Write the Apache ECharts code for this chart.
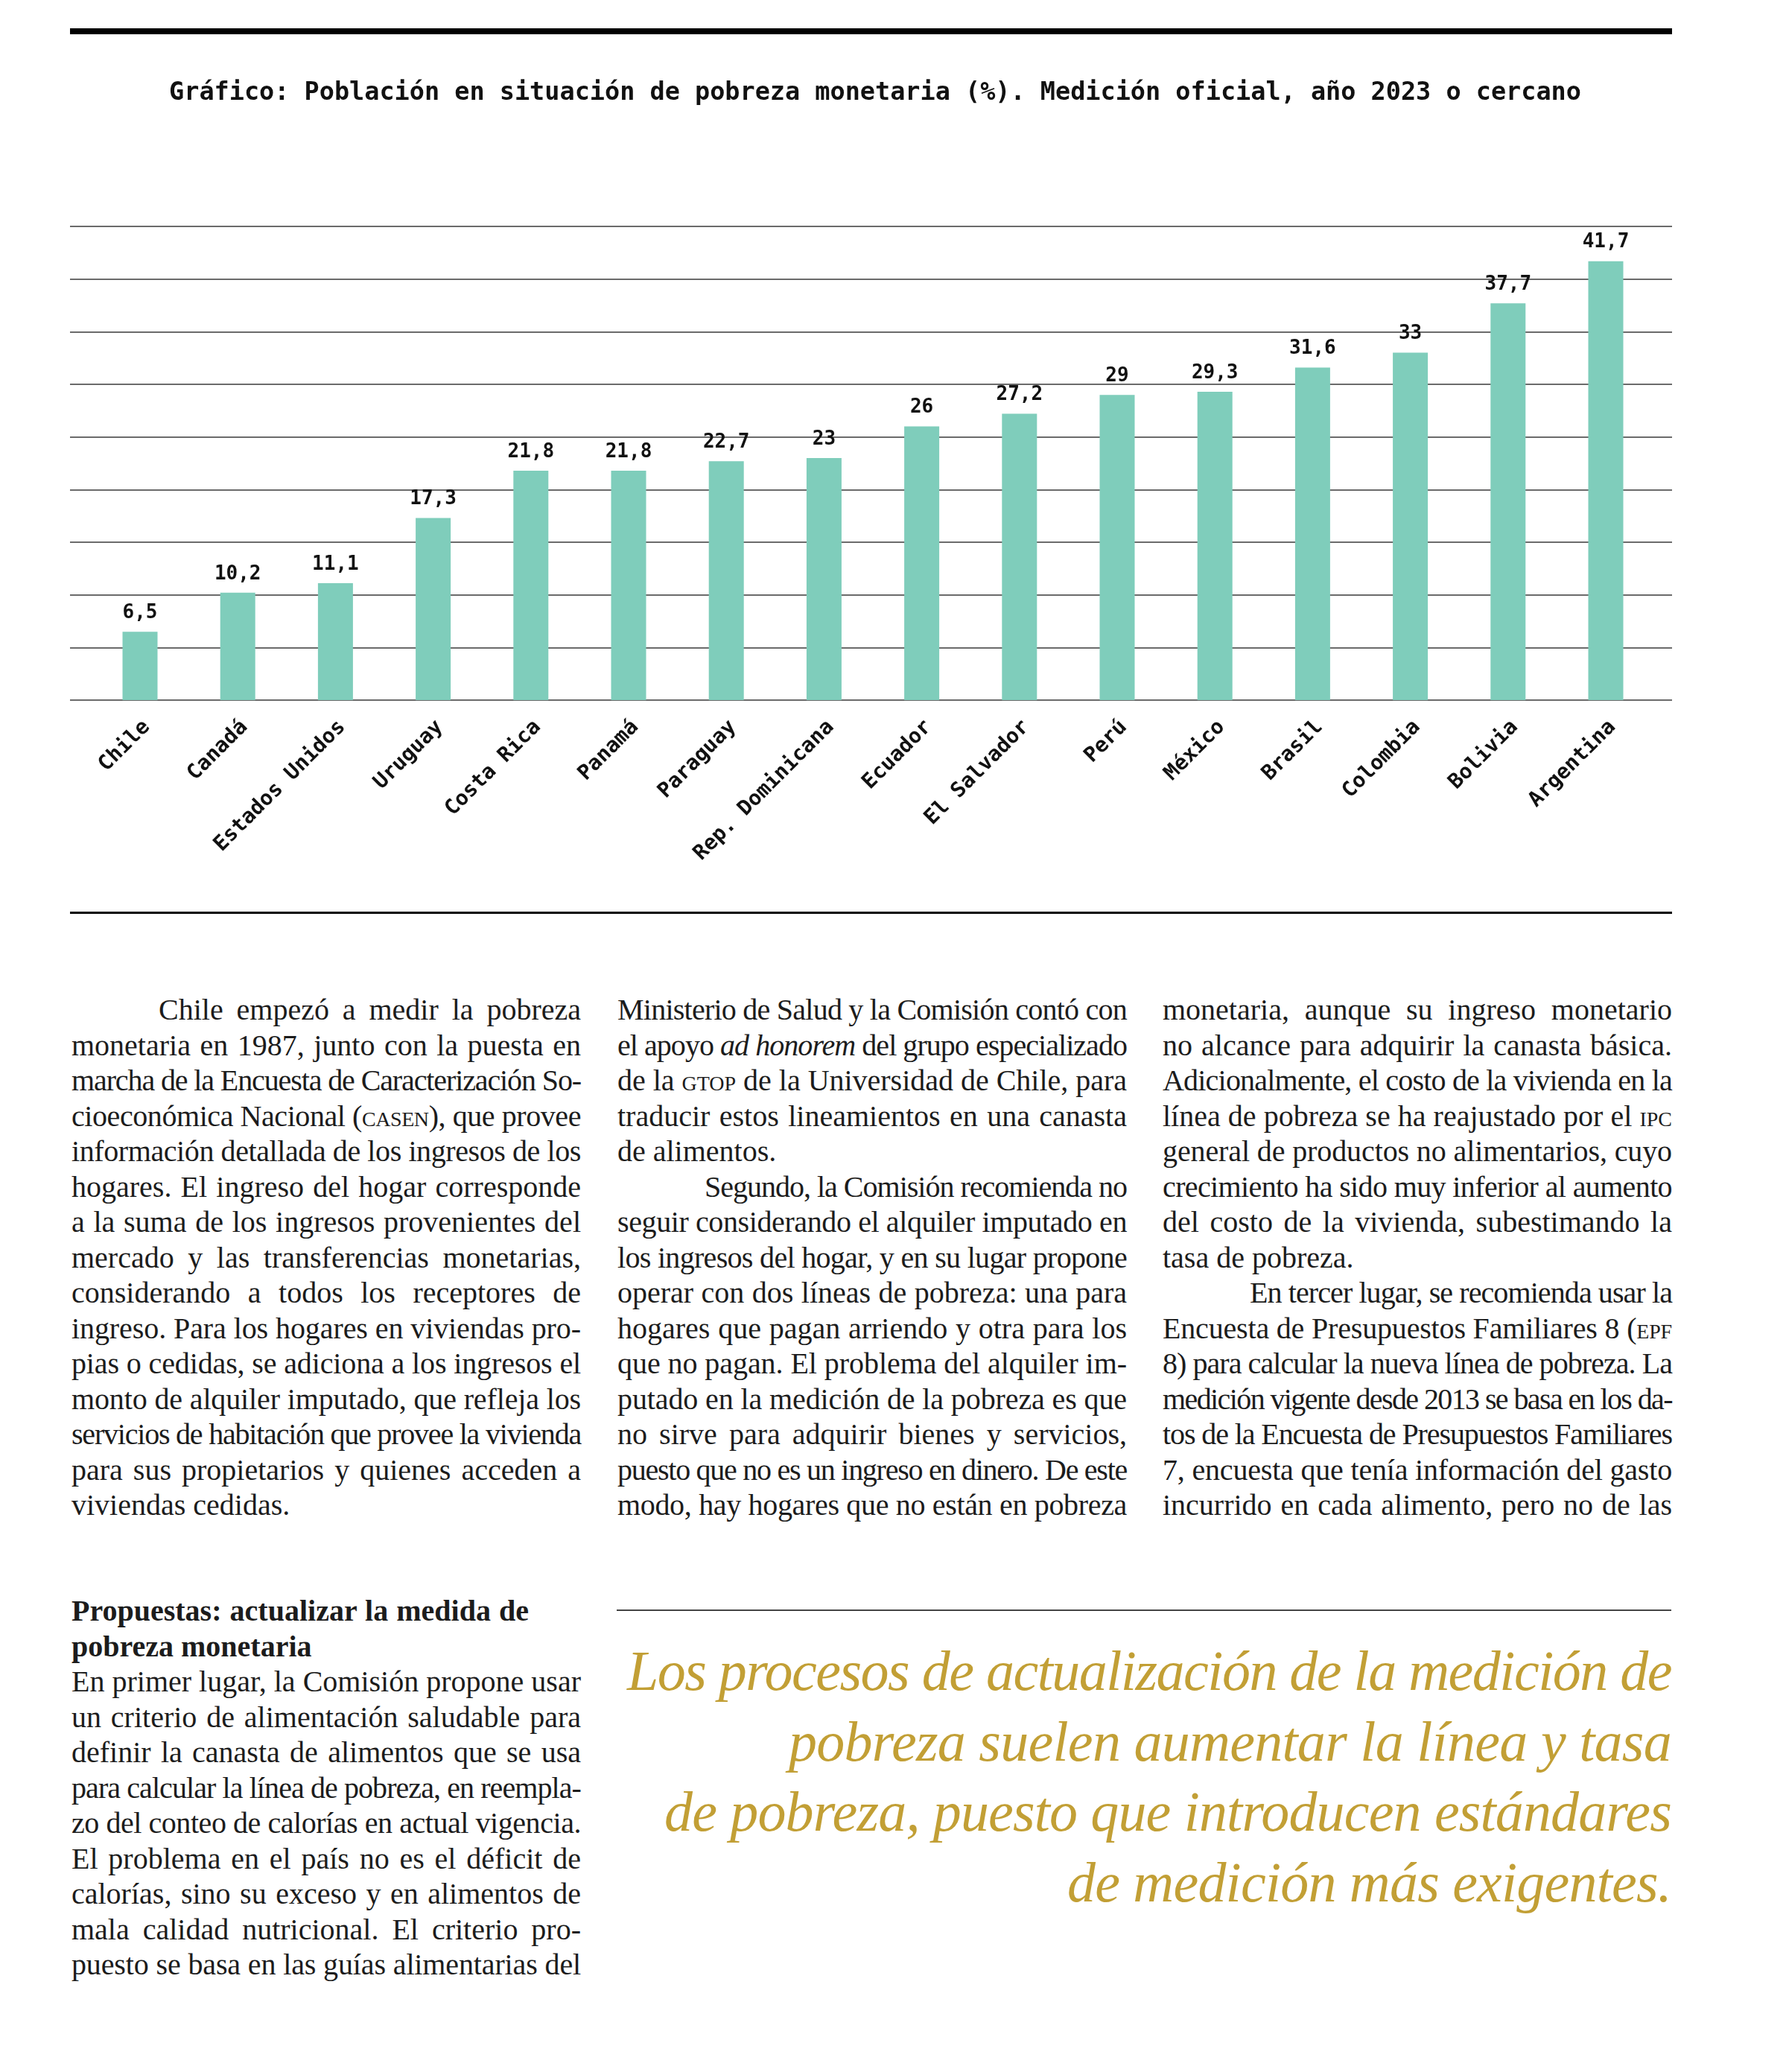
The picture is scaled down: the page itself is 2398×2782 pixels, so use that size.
<!DOCTYPE html>
<html>
<head>
<meta charset="utf-8">
<script src="https://cdn.jsdelivr.net/npm/echarts@6/dist/echarts.min.js"></script>
<style>
html,body{margin:0;padding:0;background:#fff;}
body{width:2398px;height:2782px;position:relative;overflow:hidden;}
#chart{position:absolute;left:0;top:0;width:2398px;height:1240px;z-index:1;}
.rule{position:absolute;background:#000;z-index:2;}
.col{position:absolute;width:684px;font-family:"Liberation Serif",serif;font-size:40px;line-height:47.5px;color:#1c1c1c;}
.ln{display:block;white-space:nowrap;}
.ln .t{display:inline-block;white-space:nowrap;}
.ind{padding-left:117px;}
.sc{font-variant:small-caps;}
.hd{font-weight:bold;}
#quote{position:absolute;left:828px;top:2196px;width:1416px;font-family:"Liberation Serif",serif;font-style:italic;font-size:76px;line-height:94.6px;color:#c29f35;text-align:right;}
#quote .ln{text-align:right;}
</style>
</head>
<body>
<div class="rule" style="left:94px;top:38px;width:2151px;height:8px;"></div>
<div id="chart"></div>
<div class="rule" style="left:94px;top:1224px;width:2151px;height:3px;"></div>
<div class="col" id="c1" style="left:96px;top:1332px;"></div>
<div class="col" id="c2" style="left:829px;top:1332px;"></div>
<div class="col" id="c3" style="left:1561px;top:1332px;"></div>
<div class="col" id="c4" style="left:96px;top:2139px;"></div>
<div class="rule" style="left:828px;top:2161px;width:1416px;height:2px;background:#444;"></div>
<div id="quote"></div>
<script>
// ---- chart data ----
const categories = ['Chile','Canadá','Estados Unidos','Uruguay','Costa Rica','Panamá','Paraguay','Rep. Dominicana','Ecuador','El Salvador','Perú','México','Brasil','Colombia','Bolivia','Argentina'];
const values = [6.5,10.2,11.1,17.3,21.8,21.8,22.7,23,26,27.2,29,29.3,31.6,33,37.7,41.7];
const yMin = 0, yMax = 45, yStep = 5;
const chartTitle = 'Gráfico: Población en situación de pobreza monetaria (%). Medición oficial, año 2023 o cercano';

// ---- article text (">" = indented first line, "|" = paragraph end, not justified) ----
const col1 = [
 '>Chile empezó a medir la pobreza',
 'monetaria en 1987, junto con la puesta en',
 'marcha de la Encuesta de Caracterización So-',
 'cioeconómica Nacional (<span class="sc">casen</span>), que provee',
 'información detallada de los ingresos de los',
 'hogares. El ingreso del hogar corresponde',
 'a la suma de los ingresos provenientes del',
 'mercado y las transferencias monetarias,',
 'considerando a todos los receptores de',
 'ingreso. Para los hogares en viviendas pro-',
 'pias o cedidas, se adiciona a los ingresos el',
 'monto de alquiler imputado, que refleja los',
 'servicios de habitación que provee la vivienda',
 'para sus propietarios y quienes acceden a',
 'viviendas cedidas.|'
];
const col2 = [
 'Ministerio de Salud y la Comisión contó con',
 'el apoyo <i>ad honorem</i> del grupo especializado',
 'de la <span class="sc">gtop</span> de la Universidad de Chile, para',
 'traducir estos lineamientos en una canasta',
 'de alimentos.|',
 '>Segundo, la Comisión recomienda no',
 'seguir considerando el alquiler imputado en',
 'los ingresos del hogar, y en su lugar propone',
 'operar con dos líneas de pobreza: una para',
 'hogares que pagan arriendo y otra para los',
 'que no pagan. El problema del alquiler im-',
 'putado en la medición de la pobreza es que',
 'no sirve para adquirir bienes y servicios,',
 'puesto que no es un ingreso en dinero. De este',
 'modo, hay hogares que no están en pobreza'
];
const col3 = [
 'monetaria, aunque su ingreso monetario',
 'no alcance para adquirir la canasta básica.',
 'Adicionalmente, el costo de la vivienda en la',
 'línea de pobreza se ha reajustado por el <span class="sc">ipc</span>',
 'general de productos no alimentarios, cuyo',
 'crecimiento ha sido muy inferior al aumento',
 'del costo de la vivienda, subestimando la',
 'tasa de pobreza.|',
 '>En tercer lugar, se recomienda usar la',
 'Encuesta de Presupuestos Familiares 8 (<span class="sc">epf</span>',
 '8) para calcular la nueva línea de pobreza. La',
 'medición vigente desde 2013 se basa en los da-',
 'tos de la Encuesta de Presupuestos Familiares',
 '7, encuesta que tenía información del gasto',
 'incurrido en cada alimento, pero no de las'
];
const col4 = [
 '#Propuestas: actualizar la medida de',
 '#pobreza monetaria|',
 'En primer lugar, la Comisión propone usar',
 'un criterio de alimentación saludable para',
 'definir la canasta de alimentos que se usa',
 'para calcular la línea de pobreza, en reempla-',
 'zo del conteo de calorías en actual vigencia.',
 'El problema en el país no es el déficit de',
 'calorías, sino su exceso y en alimentos de',
 'mala calidad nutricional. El criterio pro-',
 'puesto se basa en las guías alimentarias del'
];
const quoteLines = [
 ['Los procesos de actualización de la medición de', 1402],
 ['pobreza suelen aumentar la línea y tasa', 1185],
 ['de pobreza, puesto que introducen estándares', 1352],
 ['de medición más exigentes.', 811]
];

function fit(span, W){
  span.style.letterSpacing = '0px';
  span.style.wordSpacing = '0px';
  const w = span.getBoundingClientRect().width;
  const txt = span.textContent;
  const spaces = (txt.match(/ /g) || []).length;
  if (w < W && spaces > 0) {
    span.style.wordSpacing = ((W - w) / spaces) + 'px';
  } else if (w > W) {
    span.style.letterSpacing = ((W - w) / txt.length) + 'px';
  }
}

function buildCol(id, lines){
  const el = document.getElementById(id);
  const todo = [];
  lines.forEach(l => {
    let s = l, indent = false, last = false, head = false;
    if (s[0] === '>') { indent = true; s = s.slice(1); }
    if (s[0] === '#') { head = true; s = s.slice(1); }
    if (s[s.length-1] === '|') { last = true; s = s.slice(0,-1); }
    const d = document.createElement('div');
    d.className = 'ln' + (indent ? ' ind' : '') + (head ? ' hd' : '');
    const sp = document.createElement('span');
    sp.className = 't';
    sp.innerHTML = s;
    d.appendChild(sp);
    el.appendChild(d);
    if (!last) todo.push([sp, 684 - (indent ? 117 : 0), head]);
  });
  return todo;
}

function buildAll(){
  let todo = [];
  todo = todo.concat(buildCol('c1', col1), buildCol('c2', col2), buildCol('c3', col3), buildCol('c4', col4));
  todo.forEach(([sp, W, head]) => fit(sp, head ? 614 : W));
  const q = document.getElementById('quote');
  quoteLines.forEach(([t, W]) => {
    const d = document.createElement('div');
    d.className = 'ln';
    const sp = document.createElement('span');
    sp.className = 't';
    sp.textContent = t;
    d.appendChild(sp);
    q.appendChild(d);
    fit(sp, W);
  });
}

const monoFont = '"DejaVu Sans Mono", "Liberation Mono", monospace';
const chart = echarts.init(document.getElementById('chart'), null, {renderer: 'canvas'});
chart.setOption({
  animation: false,
  backgroundColor: 'transparent',
  title: {
    text: chartTitle,
    left: 1170,
    textAlign: 'center',
    top: 103,
    textStyle: {fontFamily: monoFont, fontWeight: 'bold', fontSize: 33.5, color: '#111'}
  },
  grid: [
    {left: 94, width: 2151, top: 304, height: 636},
    {left: 122.4, width: 2099.2, top: 304, height: 636},
    {left: 131.4, width: 2099.2, top: 304, height: 636}
  ],
  xAxis: [
    {gridIndex: 0, type: 'value', min: 0, max: 1, show: false},
    {
      gridIndex: 1, type: 'category', data: categories,
      axisLine: {show: false}, axisTick: {show: false}, axisLabel: {show: false}
    },
    {
      gridIndex: 2, type: 'category', data: categories,
      axisLine: {show: false}, axisTick: {show: false},
      axisLabel: {interval: 0, rotate: 45, margin: 32, fontFamily: monoFont, fontWeight: 'bold', fontSize: 28, color: '#111'}
    }
  ],
  yAxis: [
    {
      gridIndex: 0, type: 'value', min: yMin, max: yMax, interval: yStep,
      axisLabel: {show: false}, axisLine: {show: false}, axisTick: {show: false},
      splitLine: {show: true, lineStyle: {color: '#3a3a3a', width: 1.5}}
    },
    {gridIndex: 1, type: 'value', min: yMin, max: yMax, interval: yStep, show: false, splitLine: {show: false}},
    {gridIndex: 2, type: 'value', min: yMin, max: yMax, interval: yStep, show: false, splitLine: {show: false}}
  ],
  series: [{
    type: 'bar',
    xAxisIndex: 1, yAxisIndex: 1,
    data: values,
    barWidth: 47,
    itemStyle: {color: '#7fcdbb'},
    label: {
      show: true, position: 'top', distance: 12,
      formatter: p => String(p.value).replace('.', ','),
      fontFamily: monoFont, fontWeight: 'bold', fontSize: 26, color: '#111'
    }
  }]
});

if (document.fonts && document.fonts.ready) {
  document.fonts.ready.then(buildAll);
} else { buildAll(); }
</script>
</body>
</html>
